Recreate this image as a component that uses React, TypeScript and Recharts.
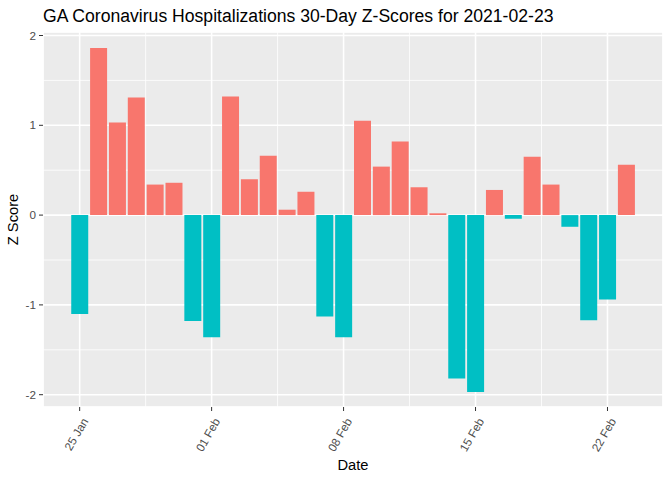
import {
  BarChart,
  Bar,
  XAxis,
  YAxis,
  CartesianGrid,
  Cell,
  Label
} from 'recharts'

const dates = [
  '2021-01-25', '2021-01-26', '2021-01-27', '2021-01-28', '2021-01-29', '2021-01-30', '2021-01-31',
  '2021-02-01', '2021-02-02', '2021-02-03', '2021-02-04', '2021-02-05', '2021-02-06', '2021-02-07',
  '2021-02-08', '2021-02-09', '2021-02-10', '2021-02-11', '2021-02-12', '2021-02-13', '2021-02-14',
  '2021-02-15', '2021-02-16', '2021-02-17', '2021-02-18', '2021-02-19', '2021-02-20', '2021-02-21',
  '2021-02-22', '2021-02-23'
]

const zScores = [
  -1.1, 1.86, 1.03, 1.31, 0.34, 0.36, -1.18,
  -1.36, 1.32, 0.4, 0.66, 0.06, 0.26, -1.13,
  -1.36, 1.05, 0.54, 0.82, 0.31, 0.02, -1.82,
  -1.97, 0.28, -0.04, 0.65, 0.34, -0.13, -1.17,
  -0.94, 0.56
]

const xTickDays = [0, 7, 14, 21, 28]
const xTickLabels = ['25 Jan', '01 Feb', '08 Feb', '15 Feb', '22 Feb']
const xMinorDays = [3.5, 10.5, 17.5, 24.5]
const yTicks = [-2, -1, 0, 1, 2]
const yMinor = [-1.5, -0.5, 0.5, 1.5]

const POS = '#F8766D'
const NEG = '#00BFC4'
const FONT = '"Liberation Sans", Arial, sans-serif'

const chartData = dates.map((d, i) => ({ date: d, day: i, z: zScores[i] }))

const XTick = ({ x, y, payload }: any) => {
  const idx = xTickDays.indexOf(payload.value)
  return (
    <g transform={`translate(${x},${y})`}>
      <text
        x={0}
        y={0}
        textAnchor="end"
        transform="translate(9,10) rotate(-60)"
        fill="#4D4D4D"
        fontSize={11.7}
        fontFamily={FONT}
      >
        {xTickLabels[idx]}
      </text>
    </g>
  )
}

export default function App() {
  const xDomain = [-1.945, 30.945]
  const yDomain = [-2.137, 2.039]
  return (
    <div style={{ position: 'absolute', left: 0, top: 0, width: 672, height: 480, background: '#fff' }}>
      <div
        style={{
          position: 'absolute',
          left: 43,
          top: 6,
          fontFamily: FONT,
          fontSize: 17.6,
          color: '#000',
          whiteSpace: 'nowrap'
        }}
      >
        GA Coronavirus Hospitalizations 30-Day Z-Scores for 2021-02-23
      </div>
      <div style={{ position: 'absolute', left: 0, top: 0 }}>
        <BarChart
          width={672}
          height={480}
          data={chartData}
          margin={{ top: 32, right: 9, left: 0, bottom: 0 }}
          barCategoryGap={0}
        >
          <XAxis
            xAxisId="minor"
            type="number"
            dataKey="day"
            domain={xDomain}
            ticks={xMinorDays}
            hide
            allowDataOverflow
          />
          <YAxis
            yAxisId="minor"
            type="number"
            domain={yDomain}
            ticks={yMinor}
            hide
            allowDataOverflow
          />
          <CartesianGrid
            xAxisId="minor"
            yAxisId="minor"
            fill="#EBEBEB"
            stroke="#FFFFFF"
            strokeWidth={0.8}
          />
          <CartesianGrid stroke="#FFFFFF" strokeWidth={1.6} />
          <XAxis
            type="number"
            dataKey="day"
            domain={xDomain}
            ticks={xTickDays}
            allowDataOverflow
            axisLine={false}
            tickLine={{ stroke: '#333333' }}
            tickSize={4}
            tickMargin={0}
            height={73}
            tick={<XTick />}
            interval={0}
          >
            <Label
              value="Date"
              position="insideBottom"
              offset={10}
              fill="#000"
              fontSize={14.7}
              fontFamily={FONT}
            />
          </XAxis>
          <YAxis
            type="number"
            domain={yDomain}
            ticks={yTicks}
            allowDataOverflow
            axisLine={false}
            tickLine={{ stroke: '#333333' }}
            tickSize={4}
            tickMargin={3}
            width={43}
            tick={{ fill: '#4D4D4D', fontSize: 11.7, fontFamily: FONT }}
            interval={0}
          >
            <Label
              value="Z Score"
              angle={-90}
              position="insideLeft"
              offset={13}
              fill="#000"
              fontSize={14.7}
              fontFamily={FONT}
              style={{ textAnchor: 'middle' }}
            />
          </YAxis>
          <Bar dataKey="z" barSize={17} isAnimationActive={false}>
            {chartData.map((entry, index) => (
              <Cell key={`cell-${index}`} fill={entry.z > 0 ? POS : NEG} />
            ))}
          </Bar>
        </BarChart>
      </div>
    </div>
  )
}
